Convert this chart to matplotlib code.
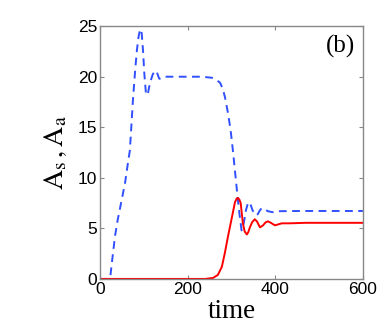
import matplotlib
matplotlib.use("Agg")
import matplotlib.pyplot as plt

plt.rcParams["mathtext.fontset"] = "stix"

# blue dashed curve (A_s)
t_s = [0, 20, 23, 28, 34, 40, 46, 52, 57, 64, 68, 75, 80, 84, 88, 91, 93, 95, 98, 101, 105,
       109, 114, 120, 125, 130, 135, 142, 148, 170, 200, 230, 255, 265, 274, 280, 285, 292,
       298, 304, 306, 310, 313, 318, 323, 326, 330, 333, 337, 340, 344, 348, 352, 356, 360,
       365, 369, 372, 377, 383, 394, 410, 450, 500, 550, 600]
A_s = [0, 0, 0.1, 2.0, 4.2, 5.8, 7.1, 8.4, 9.5, 11.6, 12.7, 17.7, 20.6, 22.6, 24.0, 24.6, 24.7,
       24.3, 22.6, 20.3, 18.2, 18.3, 19.4, 20.2, 20.6, 20.4, 19.8, 19.85, 20.0, 20.0, 20.0, 20.0,
       19.9, 19.7, 19.4, 18.8, 18.0, 16.4, 14.7, 12.4, 11.5, 9.8, 8.5, 6.5, 4.8, 5.1, 6.0, 6.8,
       7.4, 7.6, 7.3, 6.8, 6.5, 6.3, 6.4, 6.8, 7.0, 7.0, 6.85, 6.7, 6.6, 6.7, 6.72, 6.72, 6.72, 6.72]

# red solid curve (A_a)
t_a = [0, 240, 258, 269, 278, 285, 292, 301, 308, 312, 315, 318, 321, 326, 330, 335, 338, 342,
       347, 353, 358, 365, 372, 378, 383, 390, 399, 407, 415, 433, 470, 520, 600]
A_a = [0, 0, 0.1, 0.4, 1.2, 2.6, 4.2, 6.1, 7.6, 7.95, 8.0, 7.85, 7.5, 5.5, 4.7, 4.4, 4.6, 5.1,
       5.6, 5.9, 5.7, 5.1, 5.3, 5.6, 5.7, 5.55, 5.3, 5.4, 5.5, 5.5, 5.55, 5.55, 5.55]

xticks = [0, 200, 400, 600]
yticks = [0, 5, 10, 15, 20, 25]

fig = plt.figure(figsize=(3.82, 3.27), dpi=100)
ax = fig.add_axes([0.262, 0.147, 0.688, 0.773])

ax.plot(t_s, A_s, color="#3050ff", linestyle=(0, (4, 2.8)), linewidth=1.4)
ax.plot(t_a, A_a, color="#ff0000", linewidth=1.4)

ax.set_xlim(0, 600)
ax.set_ylim(0, 25)
ax.set_xticks(xticks)
ax.set_yticks(yticks)

tick_font = {"family": "Liberation Sans", "size": 12.5}
ax.set_xticklabels([str(v) for v in xticks], fontdict=tick_font)
ax.set_yticklabels([str(v) for v in yticks], fontdict=tick_font)
ax.tick_params(direction="in", top=True, right=True, length=3, width=0.8,
               color="#888888", pad=2)
for sp in ax.spines.values():
    sp.set_color("#888888")
    sp.set_linewidth(1.0)

ax.set_xlabel("time", family="Liberation Serif", fontsize=19.5, labelpad=2)
ax.set_ylabel(r"$\mathrm{A_s\,,A_a}$", fontsize=20, labelpad=6)
ax.text(0.97, 0.965, "(b)", transform=ax.transAxes, ha="right", va="top",
        family="Liberation Serif", fontsize=18)

fig.savefig("out.png", dpi=100)
